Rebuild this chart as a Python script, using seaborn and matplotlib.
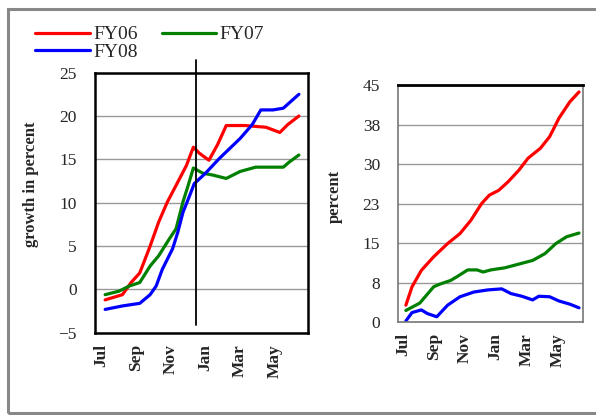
# Growth chart: FY06 / FY07 / FY08, two panels

import seaborn as sns
import matplotlib.pyplot as plt
import pandas as pd
from matplotlib.patches import Rectangle

series = ["FY06", "FY07", "FY08"]
colors = {"FY06": "#ff0000", "FY07": "#008000", "FY08": "#0000ff"}
month_labels = ["Jul", "Sep", "Nov", "Jan", "Mar", "May"]
month_ticks = [0, 2, 4, 6, 8, 10]

# left panel: growth in percent (x in months from Jul)
left_x = {
    "FY06": [0.2, 1.2, 1.7, 2.2, 2.8, 3.3, 3.8, 4.3, 4.9, 5.3, 5.65, 6.2, 6.7, 7.2, 8.3, 9.5, 10.3, 10.75, 11.4],
    "FY07": [0.2, 1.0, 1.6, 2.2, 2.8, 3.3, 3.9, 4.3, 4.7, 5.0, 5.3, 5.85, 6.4, 7.2, 8.0, 8.9, 9.9, 10.5, 10.85, 11.4],
    "FY08": [0.2, 1.2, 2.2, 2.8, 3.15, 3.5, 4.1, 4.4, 4.7, 5.1, 5.35, 6.0, 6.8, 8.0, 8.7, 9.2, 9.9, 10.5, 11.4],
}
left_y = {
    "FY06": [-1.2, -0.6, 0.8, 1.9, 5.0, 7.8, 10.1, 12.0, 14.3, 16.4, 15.7, 14.9, 16.7, 18.9, 18.9, 18.7, 18.1, 19.0, 20.0],
    "FY07": [-0.6, -0.2, 0.4, 0.8, 2.7, 3.9, 5.8, 7.0, 10.1, 12.0, 14.0, 13.4, 13.2, 12.8, 13.6, 14.1, 14.1, 14.1, 14.7, 15.5],
    "FY08": [-2.3, -1.9, -1.6, -0.6, 0.4, 2.3, 4.7, 6.6, 8.9, 10.9, 12.2, 13.4, 15.1, 17.4, 19.0, 20.7, 20.7, 20.9, 22.5],
}

# right panel: percent
right_x = {
    "FY06": [0.2, 0.6, 1.2, 2.0, 2.9, 3.7, 4.4, 5.1, 5.6, 6.2, 6.8, 7.5, 8.1, 8.9, 9.5, 10.1, 10.8, 11.4],
    "FY07": [0.2, 1.1, 2.0, 2.4, 3.1, 3.5, 4.2, 4.8, 5.2, 5.7, 6.6, 7.5, 8.4, 9.2, 9.9, 10.6, 11.4],
    "FY08": [0.2, 0.6, 1.2, 1.6, 2.2, 2.9, 3.7, 4.6, 5.5, 6.4, 7.0, 7.7, 8.4, 8.8, 9.5, 10.1, 10.8, 11.4],
}
right_y = {
    "FY06": [3.2, 6.7, 9.8, 12.4, 14.9, 16.8, 19.3, 22.5, 24.1, 25.0, 26.6, 28.8, 31.1, 33.0, 35.2, 38.7, 41.8, 43.7],
    "FY07": [2.2, 3.6, 6.7, 7.2, 7.9, 8.6, 9.9, 9.9, 9.5, 9.9, 10.3, 11.0, 11.7, 13.0, 14.9, 16.2, 16.9],
    "FY08": [0.2, 1.8, 2.3, 1.6, 1.0, 3.2, 4.8, 5.7, 6.1, 6.3, 5.4, 4.9, 4.2, 4.9, 4.8, 4.0, 3.4, 2.7],
}
right_ticks = [0, 7.5, 15, 22.5, 30, 37.5, 45]
right_tick_labels = ["0", "8", "15", "23", "30", "38", "45"]


def long_df(xs, ys):
    rows = []
    for s in series:
        for x, y in zip(xs[s], ys[s]):
            rows.append({"month": x, "value": y, "series": s})
    return pd.DataFrame(rows)


left_df = long_df(left_x, left_y)
right_df = long_df(right_x, right_y)

sns.set_style("white")
plt.rcParams["font.family"] = ["Liberation Serif", "DejaVu Serif"]
plt.rcParams["font.size"] = 12.5

fig = plt.figure(figsize=(5.96, 4.15), dpi=100)
ax1 = fig.add_axes([0.159, 0.198, 0.357, 0.627])
ax2 = fig.add_axes([0.668, 0.224, 0.310, 0.571])

# figure border (runs off the right edge like the original)
fig.patches.append(Rectangle((0.0134, 0.006), 1.0, 0.972, transform=fig.transFigure,
                             fill=False, edgecolor="#888888", linewidth=2.2))

sns.lineplot(data=left_df, x="month", y="value", hue="series", palette=colors,
             linewidth=2.3, ax=ax1, legend=False, estimator=None, sort=False)
sns.lineplot(data=right_df, x="month", y="value", hue="series", palette=colors,
             linewidth=2.3, ax=ax2, legend=False, estimator=None, sort=False)

# left panel
ax1.set_xlim(-0.4, 11.9)
ax1.set_ylim(-5, 25)
ax1.set_yticks([-5, 0, 5, 10, 15, 20, 25])
ax1.yaxis.grid(True, color="#999999", linewidth=1)
ax1.axvline(5.46, ymin=0.03, ymax=1.05, color="black", linewidth=1.3, clip_on=False)
ax1.set_ylabel("growth in percent", fontsize=12, fontweight="bold")
ax1.yaxis.set_label_coords(-0.26, 0.57)
for sp in ax1.spines.values():
    sp.set_color("black")
    sp.set_linewidth(1.8)

# right panel
ax2.set_xlim(-0.3, 11.65)
ax2.set_ylim(0, 45)
ax2.set_yticks(right_ticks)
ax2.set_yticklabels(right_tick_labels)
ax2.yaxis.grid(True, color="#999999", linewidth=1)
ax2.set_ylabel("percent", fontsize=12, fontweight="bold")
ax2.yaxis.set_label_coords(-0.30, 0.53)
for sp in ax2.spines.values():
    sp.set_color("#777777")
    sp.set_linewidth(1.2)
ax2.spines["top"].set_color("black")
ax2.spines["top"].set_linewidth(2)

for ax in (ax1, ax2):
    ax.set_xlabel("")
    ax.set_xticks(month_ticks)
    ax.set_xticklabels(month_labels, rotation=90, fontweight="bold")
    ax.tick_params(axis="x", length=0, pad=8)
    ax.tick_params(axis="y", length=0, pad=13)
    ax.set_axisbelow(True)

# legend
handles = [plt.Line2D([], [], color=colors[s], linewidth=2.3) for s in ["FY06", "FY08", "FY07"]]
fig.legend(handles, ["FY06", "FY08", "FY07"], ncol=2, loc="upper left",
           bbox_to_anchor=(0.03, 0.98), frameon=False, fontsize=14,
           handlelength=2.8, handletextpad=0.2, columnspacing=1.2, labelspacing=0.0)

fig.savefig("out.png", dpi=100)
